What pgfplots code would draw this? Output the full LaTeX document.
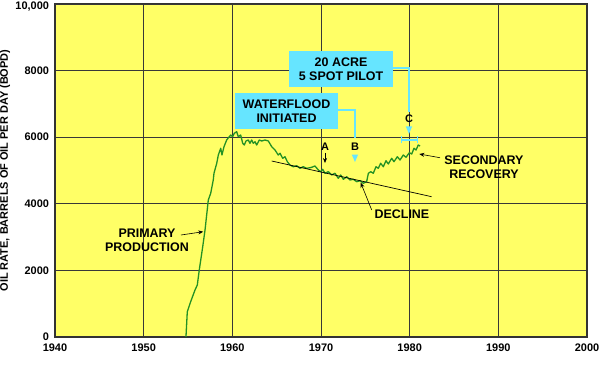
\documentclass[border=0pt]{standalone}
\usepackage{pgfplots}
\pgfplotsset{compat=1.18}
\usepackage{fontspec}
\setmainfont{Liberation Sans}
\usetikzlibrary{arrows.meta}
\definecolor{bgyel}{RGB}{255,255,102}
\definecolor{boxcyan}{RGB}{102,229,255}
\definecolor{curvegreen}{RGB}{36,145,36}
\newcommand\af{\bfseries\fontsize{12.5}{14}\selectfont}
\newcommand\lf{\bfseries\fontsize{11}{13}\selectfont}
\newcommand\tf{\bfseries\fontsize{11}{12}\selectfont}
\begin{document}
\begin{tikzpicture}
\begin{axis}[scale only axis, width=532bp, height=333bp,
 xmin=1940,xmax=2000,ymin=0,ymax=10000,
 xtick={1940,1950,1960,1970,1980,1990,2000},
 xticklabels={1940,1950,1960,1970,1980,1990,2000},
 ytick={0,2000,4000,6000,8000},
 yticklabels={0,2000,4000,6000,8000},
 extra y ticks={10000},
 extra y tick labels={10{,}000},
 extra y tick style={yticklabel style={yshift=-3bp}},
 major tick length=0pt,
 grid=major, major grid style={draw=black!78, line width=0.8pt},
 axis background/.style={fill=bgyel},
 axis line style={draw=black!80, line width=1.2pt},
 xticklabel style={yshift=-3.8bp, font=\tf},
 yticklabel style={xshift=-2.5bp, font=\tf},
 ylabel={OIL RATE, BARRELS OF OIL PER DAY (BOPD)},
 ylabel style={font=\lf, at={(axis description cs:-0.094,0.5)}, anchor=center},
 clip=false,
 /pgf/number format/assume math mode=true,
]
\addplot[curvegreen, line width=1.3pt, line join=round] coordinates {
(1954.77,0) (1954.92,760) (1955.30,1060) (1955.79,1411) (1956.05,1562)
(1956.27,2012) (1956.66,2712) (1956.92,3213) (1957.29,4114) (1957.56,4315)
(1957.85,4715) (1957.93,4916) (1958.24,5216) (1958.42,5465) (1958.69,5667)
(1958.83,5465) (1959.06,5715) (1959.36,5916) (1959.66,6015) (1959.82,6066)
(1960.04,6015) (1960.22,6117) (1960.49,6165) (1960.67,6015) (1960.94,6066)
(1961.17,5817) (1961.35,5766) (1961.54,5886) (1961.80,5916) (1961.99,5817)
(1962.18,5916) (1962.36,5817) (1962.56,5865) (1962.75,5766) (1963.04,5916)
(1963.31,5886) (1963.68,5916) (1964.06,5886) (1964.44,5715) (1964.81,5616)
(1965.18,5465) (1965.38,5517) (1965.68,5366) (1965.94,5414) (1966.20,5264)
(1966.50,5165) (1966.88,5114) (1967.26,5144) (1967.63,5066) (1968.00,5114)
(1968.39,5066) (1968.76,5084) (1968.95,5096) (1969.32,5135) (1969.70,5015)
(1969.97,4964) (1970.19,5036) (1970.45,4916) (1970.82,4964) (1971.21,4865)
(1971.58,4916) (1971.95,4766) (1972.22,4865) (1972.52,4736) (1972.90,4814)
(1973.27,4715) (1973.64,4736) (1974.03,4664) (1974.40,4694) (1974.77,4616)
(1975.15,4664) (1975.34,4916) (1975.61,4964) (1975.90,4916) (1976.20,5114)
(1976.46,5066) (1976.73,5216) (1977.03,5114) (1977.33,5294) (1977.59,5195)
(1977.97,5366) (1978.23,5264) (1978.61,5414) (1978.91,5315) (1979.28,5465)
(1979.59,5396) (1979.96,5535) (1980.23,5495) (1980.49,5667) (1980.72,5616)
(1980.97,5766) (1981.17,5736)
};
\addplot[black, line width=0.7pt] coordinates {(1964.44,5285) (1982.48,4213)};

% primary production
\node[align=center, font=\af] at (axis cs:1950.38,2913) {PRIMARY\\PRODUCTION};
\draw[-{Stealth[length=5pt,width=4pt]}, line width=0.6pt] (axis cs:1954.21,3063) -- (axis cs:1956.72,3162);

% waterflood box
\node[fill=boxcyan, minimum width=103bp, minimum height=36bp, inner sep=0pt, align=center, font=\af] at (axis cs:1966.11,6787) {WATERFLOOD\\INITIATED};
\draw[boxcyan, line width=1.2pt] (axis cs:1971.92,6817) -- (axis cs:1973.83,6817) -- (axis cs:1973.83,5976);
\node[font=\lf] at (axis cs:1973.83,5706) {B};
\fill[boxcyan] (axis cs:1973.83,5255) -- ++(-3.2bp,7.5bp) -- ++(6.4bp,0bp) -- cycle;

% 20 acre box
\node[fill=boxcyan, minimum width=104bp, minimum height=36bp, inner sep=0pt, align=center, font=\af] at (axis cs:1972.26,8048) {20 ACRE\\5 SPOT PILOT};
\draw[boxcyan, line width=1.2pt] (axis cs:1978.12,8078) -- (axis cs:1979.92,8078) -- (axis cs:1979.92,6757);
\node[font=\lf] at (axis cs:1979.92,6547) {C};
\fill[boxcyan] (axis cs:1979.92,6099) -- ++(-3.2bp,7.5bp) -- ++(6.4bp,0bp) -- cycle;
\draw[boxcyan, line width=1.2pt] (axis cs:1979.10,5916) -- (axis cs:1980.86,5916);
\draw[boxcyan, line width=1.2pt] (axis cs:1979.10,5916) ++(0bp,-3.5bp) -- ++(0bp,7bp);
\draw[boxcyan, line width=1.2pt] (axis cs:1980.86,5916) ++(0bp,-3.5bp) -- ++(0bp,7bp);

% A
\node[font=\lf] at (axis cs:1970.45,5706) {A};
\draw[-{Stealth[length=5pt,width=4pt]}, line width=0.6pt] (axis cs:1970.45,5526) -- (axis cs:1970.45,5225);

% secondary recovery
\node[align=center, font=\af] at (axis cs:1988.38,5105) {SECONDARY\\RECOVERY};
\draw[-{Stealth[length=5pt,width=4pt]}, line width=0.6pt] (axis cs:1983.42,5384) -- (axis cs:1981.09,5495);

% decline
\node[font=\af] at (axis cs:1979.13,3694) {DECLINE};
\draw[-{Stealth[length=5pt,width=4pt]}, line width=0.6pt] (axis cs:1975.72,3814) -- (axis cs:1974.48,4634);

\coordinate (sw) at (rel axis cs:0,0);
\coordinate (ne) at (rel axis cs:1,1);
\end{axis}
\pgfresetboundingbox
\useasboundingbox ([shift={(-55bp,-28bp)}]sw) rectangle ([shift={(13bp,4bp)}]ne);
\end{tikzpicture}
\end{document}
